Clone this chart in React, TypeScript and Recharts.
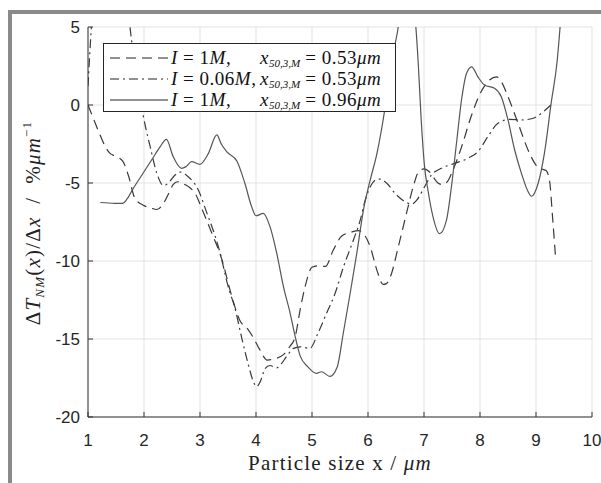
import React from 'react';
import { LineChart, Line, XAxis, YAxis, CartesianGrid, Legend } from 'recharts';

// x = particle size (µm), y = ΔT_NM(x)/Δx (%/µm)
const dashedLow = [
  { x: 1.0, y: 0 }, { x: 1.1, y: -0.9 }, { x: 1.2, y: -1.8 }, { x: 1.3, y: -2.6 }, { x: 1.38, y: -3.05 },
  { x: 1.5, y: -3.3 }, { x: 1.62, y: -3.6 }, { x: 1.72, y: -4.5 }, { x: 1.84, y: -6.0 }, { x: 2.0, y: -6.45 },
  { x: 2.12, y: -6.6 }, { x: 2.23, y: -6.7 }, { x: 2.35, y: -6.3 }, { x: 2.45, y: -5.6 }, { x: 2.52, y: -5.1 },
  { x: 2.6, y: -4.92 }, { x: 2.7, y: -5.05 }, { x: 2.8, y: -5.25 }, { x: 2.91, y: -5.65 }, { x: 3.05, y: -6.8 },
  { x: 3.21, y: -8.2 }, { x: 3.39, y: -9.9 }, { x: 3.57, y: -12.3 }, { x: 3.71, y: -13.8 }, { x: 3.86, y: -14.4 },
  { x: 3.95, y: -14.9 }, { x: 4.07, y: -15.7 }, { x: 4.2, y: -16.35 }, { x: 4.3, y: -16.3 }, { x: 4.49, y: -16.0 },
  { x: 4.6, y: -15.5 }, { x: 4.7, y: -14.85 }, { x: 4.79, y: -13.1 }, { x: 4.88, y: -11.6 }, { x: 5.0, y: -10.4 },
  { x: 5.12, y: -10.3 }, { x: 5.24, y: -10.35 }, { x: 5.38, y: -9.3 }, { x: 5.53, y: -8.4 }, { x: 5.7, y: -8.15 },
  { x: 5.83, y: -8.05 }, { x: 5.95, y: -8.4 }, { x: 6.04, y: -9.1 }, { x: 6.16, y: -10.6 }, { x: 6.27, y: -11.5 },
  { x: 6.33, y: -11.45 }, { x: 6.42, y: -10.8 }, { x: 6.54, y: -9.1 }, { x: 6.69, y: -6.9 }, { x: 6.81, y: -5.2 },
  { x: 6.9, y: -4.3 }, { x: 7.0, y: -4.1 }, { x: 7.1, y: -4.3 }, { x: 7.25, y: -5.0 }, { x: 7.33, y: -5.1 },
  { x: 7.42, y: -4.9 }, { x: 7.49, y: -4.4 }, { x: 7.67, y: -2.7 }, { x: 7.84, y: -0.75 }, { x: 8.02, y: 0.85 },
  { x: 8.17, y: 1.6 }, { x: 8.3, y: 1.8 }, { x: 8.38, y: 1.5 }, { x: 8.5, y: 0.53 }, { x: 8.68, y: -1.17 },
  { x: 8.86, y: -2.9 }, { x: 9.0, y: -3.85 }, { x: 9.1, y: -4.1 }, { x: 9.18, y: -4.2 }, { x: 9.24, y: -4.8 },
  { x: 9.3, y: -7.4 }, { x: 9.35, y: -9.8 },
];

const dashDotLow = [
  { x: 1.0, y: 1.2 }, { x: 1.03, y: 3.2 }, { x: 1.07, y: 5.5 }, { x: 1.15, y: 9 }, { x: 1.4, y: 12 },
  { x: 1.65, y: 9 }, { x: 1.75, y: 5 }, { x: 1.82, y: 3 }, { x: 1.9, y: 1.17 }, { x: 1.99, y: -0.75 },
  { x: 2.11, y: -2.67 }, { x: 2.23, y: -4.38 }, { x: 2.35, y: -5.17 }, { x: 2.46, y: -4.9 }, { x: 2.55, y: -4.5 },
  { x: 2.65, y: -4.3 }, { x: 2.79, y: -4.6 }, { x: 2.97, y: -5.45 }, { x: 3.12, y: -6.9 }, { x: 3.27, y: -8.4 },
  { x: 3.36, y: -9.5 }, { x: 3.5, y: -11.6 }, { x: 3.63, y: -13.1 }, { x: 3.74, y: -14.85 }, { x: 3.86, y: -16.6 },
  { x: 3.95, y: -17.7 }, { x: 4.01, y: -18.05 }, { x: 4.08, y: -17.7 }, { x: 4.16, y: -16.9 }, { x: 4.25, y: -16.7 },
  { x: 4.37, y: -16.85 }, { x: 4.45, y: -16.6 }, { x: 4.55, y: -16.1 }, { x: 4.67, y: -15.6 }, { x: 4.79, y: -15.5 },
  { x: 4.96, y: -15.6 }, { x: 5.11, y: -14.6 }, { x: 5.26, y: -13.35 }, { x: 5.41, y: -12.1 }, { x: 5.56, y: -10.4 },
  { x: 5.74, y: -8.65 }, { x: 5.86, y: -7.4 }, { x: 5.95, y: -6.1 }, { x: 6.04, y: -5.24 }, { x: 6.16, y: -4.77 },
  { x: 6.22, y: -4.75 }, { x: 6.33, y: -5.0 }, { x: 6.51, y: -5.77 }, { x: 6.72, y: -6.3 }, { x: 6.78, y: -6.35 },
  { x: 6.87, y: -6.1 }, { x: 7.01, y: -5.24 }, { x: 7.13, y: -4.5 }, { x: 7.31, y: -4.06 }, { x: 7.55, y: -3.74 },
  { x: 7.79, y: -3.4 }, { x: 7.96, y: -3.0 }, { x: 8.14, y: -2.03 }, { x: 8.32, y: -1.17 }, { x: 8.53, y: -0.92 },
  { x: 8.74, y: -0.96 }, { x: 8.95, y: -0.85 }, { x: 9.13, y: -0.43 }, { x: 9.28, y: 0.05 },
];

const solidHigh = [
  { x: 1.22, y: -6.25 }, { x: 1.48, y: -6.3 }, { x: 1.62, y: -6.3 }, { x: 1.72, y: -5.9 }, { x: 1.81, y: -5.34 },
  { x: 1.96, y: -4.5 }, { x: 2.14, y: -3.5 }, { x: 2.29, y: -2.67 }, { x: 2.4, y: -2.2 }, { x: 2.52, y: -3.3 },
  { x: 2.67, y: -4.06 }, { x: 2.75, y: -3.95 }, { x: 2.85, y: -3.63 }, { x: 3.0, y: -3.8 }, { x: 3.15, y: -3.1 },
  { x: 3.3, y: -1.92 }, { x: 3.38, y: -2.5 }, { x: 3.48, y: -3.0 }, { x: 3.66, y: -3.6 }, { x: 3.8, y: -5.0 },
  { x: 3.92, y: -6.5 }, { x: 4.0, y: -7.1 }, { x: 4.13, y: -6.95 }, { x: 4.25, y: -7.8 }, { x: 4.37, y: -9.5 },
  { x: 4.49, y: -11.65 }, { x: 4.61, y: -13.35 }, { x: 4.7, y: -14.85 }, { x: 4.79, y: -16.1 }, { x: 4.93, y: -16.8 },
  { x: 5.08, y: -17.2 }, { x: 5.17, y: -17.1 }, { x: 5.32, y: -17.4 }, { x: 5.45, y: -16.8 }, { x: 5.56, y: -14.6 },
  { x: 5.68, y: -12.1 }, { x: 5.8, y: -9.5 }, { x: 5.92, y: -6.7 }, { x: 6.04, y: -4.8 }, { x: 6.16, y: -3.1 },
  { x: 6.27, y: -0.96 }, { x: 6.36, y: 1.17 }, { x: 6.45, y: 3.3 }, { x: 6.54, y: 5 }, { x: 6.62, y: 7.5 },
  { x: 6.7, y: 8.5 }, { x: 6.78, y: 7 }, { x: 6.85, y: 5.2 }, { x: 6.9, y: 2.5 }, { x: 6.95, y: -0.96 },
  { x: 7.01, y: -3.95 }, { x: 7.07, y: -5.45 }, { x: 7.16, y: -7.15 }, { x: 7.28, y: -8.25 }, { x: 7.4, y: -7.4 },
  { x: 7.49, y: -5.24 }, { x: 7.58, y: -2.45 }, { x: 7.67, y: 0.32 }, { x: 7.76, y: 2.03 }, { x: 7.85, y: 2.45 },
  { x: 7.96, y: 1.82 }, { x: 8.08, y: 1.28 }, { x: 8.26, y: 1.07 }, { x: 8.38, y: 0.53 }, { x: 8.5, y: -0.96 },
  { x: 8.62, y: -2.9 }, { x: 8.74, y: -4.38 }, { x: 8.86, y: -5.56 }, { x: 8.92, y: -5.85 }, { x: 9.04, y: -5.0 },
  { x: 9.15, y: -3.1 }, { x: 9.27, y: 0.1 }, { x: 9.38, y: 2.9 }, { x: 9.44, y: 5.5 }, { x: 9.5, y: 9 },
];

const xTicks = [1, 2, 3, 4, 5, 6, 7, 8, 9, 10];
const yTicks = [-20, -15, -10, -5, 0, 5];

const legendRows = [
  { dash: '10 6', left: ['I', ' = 1', 'M', ','], val: '0.53' },
  { dash: '9 4 2 4', left: ['I', ' = 0.06', 'M', ','], val: '0.53' },
  { dash: undefined, left: ['I', ' = 1', 'M', ','], val: '0.96' },
];

const axisColor = '#333';
const lineColor = '#3a3a3a';
const tickFont = { fontFamily: '"Liberation Sans", Arial, sans-serif', fontSize: 17, fill: '#262626' };
const serif = '"Liberation Serif", "Times New Roman", serif';

const LegendBox = () => (
  <div style={{ border: '1px solid #262626', background: '#fff', width: 293, height: 69, boxSizing: 'border-box', paddingTop: 3, fontFamily: serif, fontSize: 19, letterSpacing: 0.5, color: '#111', textAlign: 'left' }}>
    {legendRows.map((r, i) => (
      <div key={i} style={{ display: 'flex', alignItems: 'center', height: 21, whiteSpace: 'nowrap' }}>
        <svg width={58} height={10} style={{ marginLeft: 6, marginRight: 3 }}>
          <line x1={0} y1={5} x2={58} y2={5} stroke="#222" strokeWidth={1} strokeDasharray={r.dash} />
        </svg>
        <span style={{ width: 89, display: 'inline-block' }}>
          <i>{r.left[0]}</i>{r.left[1]}<i>{r.left[2]}</i>{r.left[3]}
        </span>
        <span>
          <i>x</i><sub style={{ fontSize: 11, fontStyle: 'italic', verticalAlign: -3, lineHeight: 0, letterSpacing: 0 }}>50,3,M</sub> = {r.val}<i>μm</i>
        </span>
      </div>
    ))}
  </div>
);

const YLabel = () => (
  <text transform="translate(40,223) rotate(-90)" textAnchor="middle" fontFamily={serif} fontSize={21} letterSpacing={1.2} fill="#222">
    <tspan>Δ</tspan>
    <tspan fontStyle="italic">T</tspan>
    <tspan fontStyle="italic" fontSize={13} dy={4}>NM</tspan>
    <tspan dy={-4}>(</tspan>
    <tspan fontStyle="italic">x</tspan>
    <tspan>)/Δ</tspan>
    <tspan fontStyle="italic">x</tspan>
    <tspan>{'\u00a0\u00a0/\u00a0\u00a0%'}</tspan>
    <tspan fontStyle="italic">μm</tspan>
    <tspan fontSize={13} dy={-9}>−1</tspan>
  </text>
);

const XLabel = () => (
  <text x={340} y={470} textAnchor="middle" fontFamily={serif} fontSize={21} letterSpacing={1.2} fill="#222">
    <tspan>Particle size x / </tspan>
    <tspan fontStyle="italic">μm</tspan>
  </text>
);

export default function App() {
  return (
    <div style={{ position: 'absolute', left: 0, top: 0, width: 601, height: 483, background: '#fff' }}>
      <LineChart width={601} height={483} margin={{ top: 27, right: 9, bottom: 26, left: 28 }}>
        <CartesianGrid stroke="#e3e3e3" strokeWidth={1} />
        <XAxis
          dataKey="x"
          type="number"
          domain={[1, 10]}
          ticks={xTicks}
          allowDataOverflow
          height={40}
          tickSize={-5}
          tickMargin={22}
          stroke={axisColor}
          tick={tickFont}
          label={<XLabel />}
        />
        <XAxis xAxisId="top" orientation="top" dataKey="x" type="number" domain={[1, 10]} ticks={xTicks} allowDataOverflow height={0} tickSize={-5} tick={false} stroke={axisColor} />
        <YAxis
          type="number"
          domain={[-20, 5]}
          ticks={yTicks}
          allowDataOverflow
          width={60}
          tickSize={-5}
          tickMargin={13}
          stroke={axisColor}
          tick={tickFont}
          label={<YLabel />}
        />
        <YAxis yAxisId="right" orientation="right" type="number" domain={[-20, 5]} ticks={yTicks} allowDataOverflow width={0} tickSize={-5} tick={false} stroke={axisColor} />
        <Legend
          layout="horizontal"
          verticalAlign="middle"
          align="center"
          wrapperStyle={{ left: 103, top: 43, width: 293, height: 69 }}
          content={() => <LegendBox />}
        />
        <Line data={dashedLow} dataKey="y" name="dashed" type="monotone" stroke={lineColor} strokeWidth={1.2} strokeDasharray="10 6" dot={false} isAnimationActive={false} />
        <Line data={dashDotLow} dataKey="y" name="dashdot" type="monotone" stroke={lineColor} strokeWidth={1.2} strokeDasharray="9 4 2 4" dot={false} isAnimationActive={false} />
        <Line data={solidHigh} dataKey="y" name="solid" type="monotone" stroke="#555" strokeWidth={1.2} dot={false} isAnimationActive={false} />
      </LineChart>
      <div style={{ position: 'absolute', left: 8, top: 10, width: 593, height: 473, borderTop: '4px solid #8a8a8a', borderLeft: '4px solid #8a8a8a', boxSizing: 'border-box', pointerEvents: 'none' }} />
    </div>
  );
}
